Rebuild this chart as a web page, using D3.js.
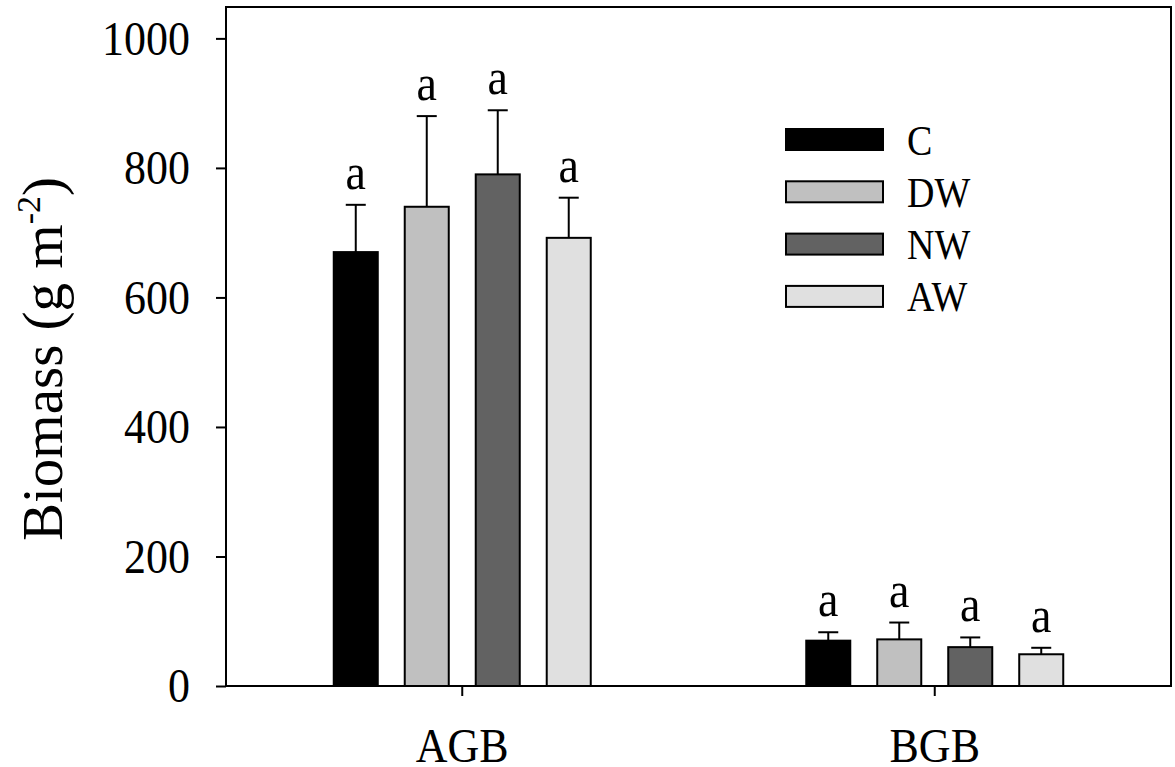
<!DOCTYPE html>
<html><head><meta charset="utf-8">
<script src="https://cdn.jsdelivr.net/npm/d3@7"></script>
<style>body{margin:0;background:#fff}svg{display:block}text{font-family:"Liberation Serif","Times New Roman",serif;fill:#000}</style>
</head><body><svg id="c" width="1175" height="767"></svg>
<script>
const groups = ["AGB", "BGB"];
const series = ["C", "DW", "NW", "AW"];
const colors = ["#000000", "#c0c0c0", "#626262", "#e0e0e0"];
const meansAGB = [670, 740, 790, 692];
const errsAGB = [73, 140, 99, 62];
const meansBGB = [70, 72, 60, 49];
const errsBGB = [13, 26, 15, 10];
const lettersAGB = ["a", "a", "a", "a"];
const lettersBGB = ["a", "a", "a", "a"];
const yTicks = [0, 200, 400, 600, 800, 1000];
const yMax = 1050;

const rows = [];
groups.forEach((g, gi) => {
  const m = gi === 0 ? meansAGB : meansBGB;
  const e = gi === 0 ? errsAGB : errsBGB;
  const l = gi === 0 ? lettersAGB : lettersBGB;
  series.forEach((s, si) => rows.push({g, s, si, v: m[si], e: e[si], l: l[si]}));
});

const L = 226, R = 1171, T = 6, B = 686;
const SY = 1.12;
const svg = d3.select("#c");
const y = d3.scaleLinear().domain([0, yMax]).range([B, T]);
const x0 = d3.scaleBand().domain(groups).range([L, R]).padding(0);
const innerW = x0.bandwidth() * 0.601;
const x1 = d3.scaleBand().domain(series).range([-innerW / 2, innerW / 2]).paddingInner(0.38).paddingOuter(0.19);
const color = d3.scaleOrdinal().domain(series).range(colors);

function sText(parent, x, yy, str, size, anchor) {
  const g = parent.append("g").attr("transform", `translate(${x},${yy})`);
  return g.append("text").attr("transform", `scale(1,${SY})`).attr("font-size", size)
    .attr("text-anchor", anchor || "middle").text(str);
}

// bars
const bx = d => x0(d.g) + x0.bandwidth() / 2 + x1(d.s);
svg.append("g").selectAll("rect").data(rows).join("rect")
  .attr("x", bx).attr("width", x1.bandwidth())
  .attr("y", d => y(d.v)).attr("height", d => y(0) - y(d.v))
  .attr("fill", d => color(d.s)).attr("stroke", "#000").attr("stroke-width", 2);

// error bars
const eg = svg.append("g").attr("stroke", "#000").attr("stroke-width", 2);
rows.forEach(d => {
  const cx = bx(d) + x1.bandwidth() / 2;
  eg.append("line").attr("x1", cx).attr("x2", cx).attr("y1", y(d.v)).attr("y2", y(d.v + d.e));
  eg.append("line").attr("x1", cx - 10).attr("x2", cx + 10).attr("y1", y(d.v + d.e)).attr("y2", y(d.v + d.e));
  sText(svg, cx, y(d.v + d.e) - 16, d.l, 46);
});

// y axis
const ya = svg.append("g").attr("transform", `translate(${L},0)`)
  .call(d3.axisLeft(y).tickValues(yTicks).tickFormat(d3.format("d")).tickSize(10).tickSizeOuter(0).tickPadding(26));
ya.select(".domain").remove();
ya.selectAll("line").attr("stroke-width", 2);
ya.selectAll("text").attr("font-size", 44).attr("font-family", '"Liberation Serif",serif')
  .attr("transform", `scale(1,${SY})`);

// x axis ticks
const xa = svg.append("g").attr("transform", `translate(0,${B})`)
  .call(d3.axisBottom(x0).tickSize(10).tickSizeOuter(0).tickFormat(""));
xa.select(".domain").remove();
xa.selectAll("line").attr("stroke-width", 2);
groups.forEach(g => sText(svg, x0(g) + x0.bandwidth() / 2, 762, g, 44));

// frame
svg.append("rect").attr("x", L).attr("y", T + 1).attr("width", R - L).attr("height", B - T - 1)
  .attr("fill", "none").attr("stroke", "#000").attr("stroke-width", 2);

// legend
const lg = svg.append("g");
series.forEach((s, i) => {
  const yy = 129 + i * 52.3;
  lg.append("rect").attr("x", 786).attr("y", yy).attr("width", 97).attr("height", 21)
    .attr("fill", color(s)).attr("stroke", "#000").attr("stroke-width", 2);
  sText(lg, 907, yy + 25.5, s, 38, "start");
});

// y label
const yl = svg.append("text").attr("transform", "translate(62,359) rotate(-90)")
  .attr("text-anchor", "middle").attr("font-size", 57);
yl.append("tspan").text("Biomass (g m");
yl.append("tspan").attr("font-size", 34).attr("dy", -22).text("-2");
yl.append("tspan").attr("dy", 22).text(")");
</script></body></html>
